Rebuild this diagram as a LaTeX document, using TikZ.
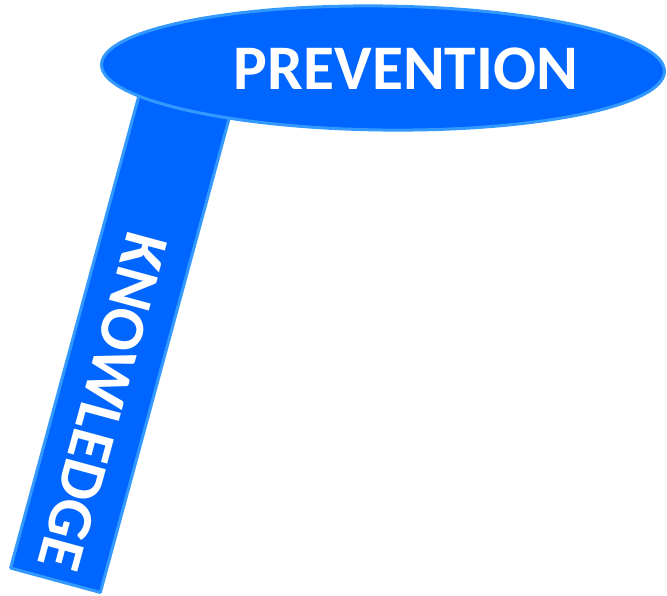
\documentclass[tikz,border=0pt]{standalone}
\usepackage{fontspec}
\setmainfont{Carlito}
\usetikzlibrary{shapes.geometric}
\definecolor{fillblue}{RGB}{0,102,255}
\definecolor{edgeblue}{RGB}{51,153,255}

\begin{document}
\begin{tikzpicture}[x=1pt,y=-1pt,line cap=round,line join=round,
  shapeblue/.style={fill=fillblue,draw=edgeblue,line width=3pt,inner sep=0pt},
  bigword/.style={text=white,font=\fontsize{63.5}{65}\selectfont\bfseries,inner sep=0pt}]
\useasboundingbox (0,0) rectangle (667,595);
\coordinate (barmid) at (121,339);
\coordinate (ellmid) at (383,68);
\node[shapeblue,rectangle,minimum width=500pt,minimum height=93pt,rotate=-105.2] (bar) at (barmid) {};
\node[bigword,rotate=-105.2] (knowledge) at (103,402) {KNOWLEDGE};
\node[shapeblue,ellipse,minimum width=563pt,minimum height=124pt,rotate=-0.7] (prevent) at (ellmid) {};
\node[bigword] (prevention) at (406,69) {PREVENTION};
\end{tikzpicture}
\end{document}
